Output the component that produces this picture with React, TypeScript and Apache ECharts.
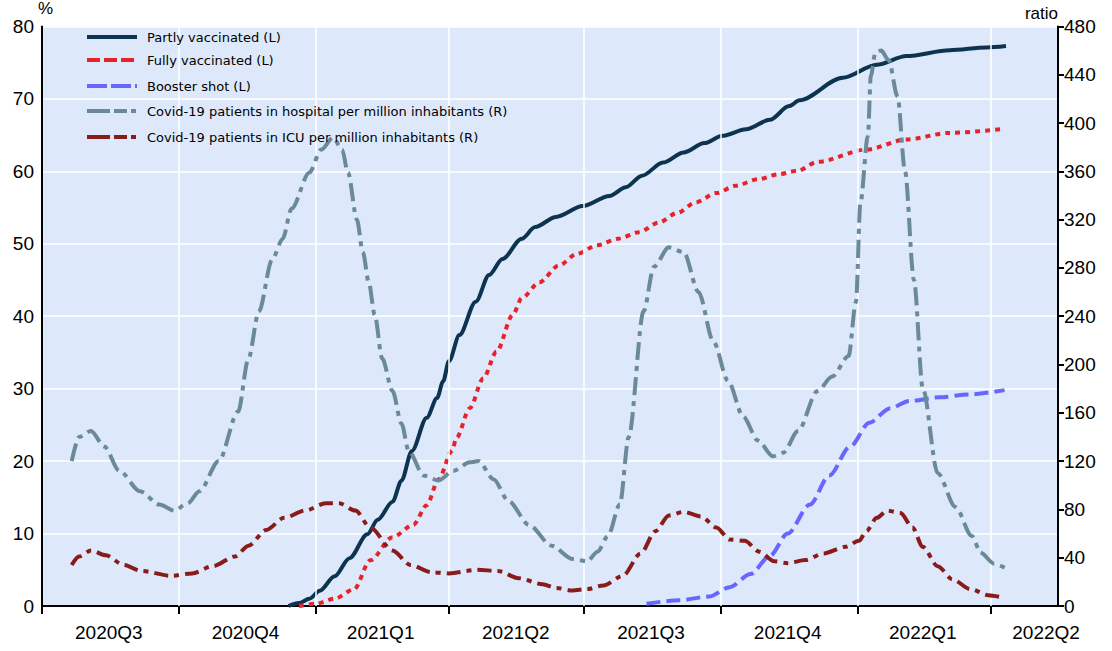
import React, { useEffect, useRef } from "react";
import * as echarts from "echarts";

// ---------- data ----------
const quarterStarts = ["2020-07-01", "2020-10-01", "2021-01-01", "2021-04-01", "2021-07-01", "2021-10-01", "2022-01-01", "2022-04-01"];
const quarterLabels = ["2020Q3", "2020Q4", "2021Q1", "2021Q2", "2021Q3", "2021Q4", "2022Q1", "2022Q2"];
const quarterLabelDates = ["2020-08-15", "2020-11-15", "2021-02-14", "2021-05-16", "2021-08-15", "2021-11-15", "2022-02-14", "2022-05-08"];
const axisEndDate = "2022-05-16";

const partlyDates = ["2020-12-14", "2020-12-21", "2020-12-28", "2021-01-04", "2021-01-14", "2021-01-24", "2021-02-05", "2021-02-12", "2021-02-22", "2021-02-28", "2021-03-07", "2021-03-17", "2021-03-24", "2021-03-28", "2021-04-01", "2021-04-08", "2021-04-19", "2021-04-28", "2021-05-07", "2021-05-20", "2021-05-29", "2021-06-12", "2021-06-30", "2021-07-18", "2021-07-29", "2021-08-09", "2021-08-23", "2021-09-06", "2021-09-20", "2021-10-02", "2021-10-18", "2021-11-03", "2021-11-16", "2021-11-23", "2021-12-22", "2022-01-14", "2022-02-03", "2022-03-04", "2022-03-29", "2022-04-11"];
const partlyValues = [0, 0.4, 1.0, 2.1, 4.1, 6.6, 9.9, 11.9, 14.4, 17.3, 21.4, 26, 28.7, 31, 33.8, 37.4, 42.0, 45.7, 47.9, 50.7, 52.3, 53.7, 55.2, 56.6, 57.8, 59.4, 61.2, 62.6, 63.9, 64.9, 65.8, 67.1, 69.0, 69.8, 72.9, 74.7, 75.9, 76.7, 77.1, 77.3];

const fullyDates = ["2020-12-21", "2021-01-01", "2021-01-14", "2021-01-27", "2021-02-07", "2021-02-22", "2021-03-08", "2021-03-17", "2021-03-25", "2021-04-03", "2021-04-06", "2021-04-15", "2021-04-24", "2021-05-03", "2021-05-14", "2021-05-20", "2021-06-01", "2021-06-14", "2021-06-26", "2021-07-10", "2021-07-24", "2021-08-07", "2021-08-20", "2021-09-02", "2021-09-14", "2021-09-28", "2021-10-11", "2021-10-26", "2021-11-09", "2021-11-22", "2021-12-05", "2022-01-07", "2022-02-03", "2022-03-04", "2022-04-07"];
const fullyValues = [0, 0.3, 1.0, 2.3, 6.3, 9.5, 11.2, 13.9, 17.5, 21.4, 23.2, 27.3, 31.4, 35.1, 40.2, 42.5, 44.7, 47.0, 48.6, 49.8, 50.7, 51.6, 52.9, 54.3, 55.7, 57.0, 58.0, 58.9, 59.6, 60.1, 61.3, 63, 64.4, 65.3, 65.8];

const boosterDates = ["2021-08-12", "2021-09-03", "2021-09-23", "2021-10-07", "2021-10-21", "2021-11-03", "2021-11-15", "2021-11-30", "2021-12-13", "2021-12-27", "2022-01-09", "2022-01-23", "2022-02-05", "2022-02-25", "2022-03-17", "2022-04-10"];
const boosterValues = [0.3, 0.8, 1.3, 2.6, 4.4, 6.9, 10, 14, 18, 22, 25.3, 27.3, 28.3, 28.8, 29.2, 29.8];

const hospitalDates = ["2020-07-21", "2020-07-26", "2020-08-03", "2020-08-12", "2020-08-22", "2020-09-05", "2020-09-18", "2020-09-28", "2020-10-07", "2020-10-15", "2020-10-28", "2020-11-10", "2020-11-17", "2020-11-24", "2020-12-03", "2020-12-10", "2020-12-16", "2020-12-28", "2021-01-05", "2021-01-13", "2021-01-19", "2021-01-23", "2021-01-29", "2021-02-02", "2021-02-06", "2021-02-10", "2021-02-15", "2021-02-22", "2021-02-28", "2021-03-05", "2021-03-15", "2021-03-25", "2021-04-04", "2021-04-15", "2021-04-21", "2021-05-01", "2021-05-11", "2021-05-25", "2021-06-09", "2021-06-23", "2021-07-03", "2021-07-10", "2021-07-17", "2021-07-25", "2021-07-31", "2021-08-10", "2021-08-17", "2021-08-27", "2021-09-06", "2021-09-16", "2021-09-26", "2021-10-06", "2021-10-16", "2021-10-26", "2021-11-05", "2021-11-12", "2021-11-22", "2021-12-05", "2021-12-15", "2021-12-26", "2021-12-31", "2022-01-03", "2022-01-08", "2022-01-10", "2022-01-13", "2022-01-17", "2022-01-22", "2022-01-28", "2022-02-02", "2022-02-08", "2022-02-14", "2022-02-24", "2022-03-08", "2022-03-19", "2022-03-25", "2022-04-03", "2022-04-11"];
const hospitalValues = [120, 140, 145, 132, 112, 95, 84, 79, 85, 95, 120, 161, 205, 244, 287, 304, 329, 359, 378, 388, 378, 359, 320, 293, 268, 241, 205, 178, 151, 128, 108, 104, 112, 119, 120, 105, 87, 67, 50, 39, 37, 45, 58, 84, 140, 244, 281, 297, 293, 260, 219, 186, 157, 137, 124, 127, 145, 178, 190, 207, 252, 334, 389, 439, 458, 460, 452, 422, 360, 270, 180, 110, 82, 58, 44, 35, 31];

const icuDates = ["2020-07-21", "2020-07-26", "2020-08-03", "2020-08-13", "2020-08-25", "2020-09-06", "2020-09-26", "2020-10-10", "2020-10-24", "2020-11-08", "2020-11-17", "2020-11-29", "2020-12-11", "2020-12-25", "2021-01-08", "2021-01-17", "2021-01-28", "2021-02-07", "2021-02-22", "2021-03-06", "2021-03-20", "2021-04-01", "2021-04-20", "2021-05-04", "2021-05-18", "2021-06-03", "2021-06-12", "2021-06-23", "2021-07-03", "2021-07-14", "2021-07-27", "2021-08-08", "2021-08-18", "2021-08-27", "2021-09-06", "2021-09-18", "2021-09-28", "2021-10-07", "2021-10-17", "2021-10-27", "2021-11-06", "2021-11-15", "2021-11-27", "2021-12-09", "2021-12-24", "2022-01-02", "2022-01-07", "2022-01-14", "2022-01-21", "2022-01-30", "2022-02-07", "2022-02-14", "2022-02-24", "2022-03-06", "2022-03-18", "2022-03-30", "2022-04-10"];
const icuValues = [34, 41, 46, 42, 34, 29, 25, 27, 33, 41, 50, 63, 73, 79, 85, 85, 79, 65, 46, 34, 28, 27, 30, 29, 23, 18, 15, 12.8, 14, 17, 25, 43.5, 62, 75, 78, 74, 65, 55, 54, 45, 37, 35.5, 38, 43.5, 49, 54, 62, 73, 79, 77, 65, 49, 33, 22, 14, 9, 6.7];

const seriesNames = [
  "Partly vaccinated (L)",
  "Fully vaccinated (L)",
  "Booster shot (L)",
  "Covid-19 patients in hospital per million inhabitants (R)",
  "Covid-19 patients in ICU per million inhabitants (R)",
];

// ---------- helpers ----------
const DAY0 = Date.UTC(2020, 6, 1);
const toDay = (s: string) => {
  const [y, m, d] = s.split("-").map(Number);
  return (Date.UTC(y, m - 1, d) - DAY0) / 86400000;
};
const pairs = (dates: string[], vals: number[]) => dates.map((d, i) => [toDay(d), vals[i]]);

const AXIS_FONT = "'Liberation Sans', Arial, sans-serif";
const LEGEND_FONT = "'DejaVu Sans', Verdana, sans-serif";

export default function App() {
  const ref = useRef<HTMLDivElement>(null);
  useEffect(() => {
    if (!ref.current) return;
    const chart = echarts.init(ref.current, undefined, { renderer: "svg" });
    const tickDays = quarterStarts.map(toDay);
    const labelDays = quarterLabelDates.map(toDay);
    const labelFor = (v: number) => {
      const i = labelDays.findIndex((d) => Math.abs(d - v) < 0.5);
      return i >= 0 ? quarterLabels[i] : "";
    };
    const colors = ["#0c3450", "#e8222b", "#6767ff", "#6b8a99", "#8a1b1b"];
    const dashes: any[] = ["solid", [5, 5], [14, 6], [18, 6, 5, 6], [14, 6, 5, 6]];
    const legendDashes: any[] = [null, [13, 4], [20, 4], [23, 4, 13, 4, 5, 4], [23, 4, 13, 4, 5, 4]];
    const datas = [
      pairs(partlyDates, partlyValues),
      pairs(fullyDates, fullyValues),
      pairs(boosterDates, boosterValues),
      pairs(hospitalDates, hospitalValues),
      pairs(icuDates, icuValues),
    ];
    const axisIdx = [0, 0, 0, 1, 1];
    const legendRowsY = [37, 60, 86, 111, 137];

    const legendGraphics: any[] = [];
    seriesNames.forEach((n, i) => {
      const y = legendRowsY[i];
      legendGraphics.push({
        type: "line",
        silent: true,
        z: 100,
        shape: { x1: 87, y1: y, x2: 137, y2: y },
        style: { stroke: colors[i], lineWidth: 4, lineDash: legendDashes[i] || undefined, lineCap: "butt" },
      });
      legendGraphics.push({
        type: "text",
        silent: true,
        z: 100,
        style: {
          text: n,
          x: 147,
          y,
          verticalAlign: "middle",
          align: "left",
          fontFamily: LEGEND_FONT,
          fontSize: 13,
          fill: "#000",
        },
      });
    });

    chart.setOption({
      animation: false,
      backgroundColor: "#ffffff",
      grid: {
        left: 42,
        right: 54,
        top: 23,
        bottom: 45,
        show: true,
        backgroundColor: "#dde9fa",
        borderWidth: 0,
      },
      graphic: legendGraphics,
      xAxis: {
        type: "value",
        min: 0,
        max: toDay(axisEndDate),
        axisLine: { show: true, lineStyle: { color: "#000", width: 2 } },
        axisTick: { show: true, customValues: tickDays, length: 8, lineStyle: { color: "#000", width: 2 } },
        axisLabel: {
          customValues: labelDays,
          formatter: (v: number) => labelFor(v),
          fontFamily: AXIS_FONT,
          fontSize: 19,
          color: "#000",
          margin: 17,
        },
        splitLine: { show: false },
      },
      yAxis: [
        {
          type: "value",
          min: 0,
          max: 80,
          interval: 10,
          name: "%",
          nameLocation: "end",
          nameGap: 4,
          nameTextStyle: { fontFamily: AXIS_FONT, fontSize: 17, color: "#000", align: "left", padding: [0, 0, 0, -4] },
          axisLine: { show: true, lineStyle: { color: "#000", width: 2 } },
          axisTick: { show: false },
          axisLabel: { fontFamily: AXIS_FONT, fontSize: 19, color: "#000", margin: 8 },
          splitLine: { show: true, lineStyle: { color: "#ffffff", width: 1.5 } },
        },
        {
          type: "value",
          min: 0,
          max: 480,
          interval: 40,
          position: "right",
          name: "ratio",
          nameLocation: "end",
          nameGap: 4,
          nameTextStyle: { fontFamily: AXIS_FONT, fontSize: 17, color: "#000", align: "right" },
          axisLine: { show: true, lineStyle: { color: "#000", width: 2 } },
          axisTick: { show: true, length: 6, lineStyle: { color: "#000", width: 2 } },
          axisLabel: { fontFamily: AXIS_FONT, fontSize: 19, color: "#000", margin: 6 },
          splitLine: { show: false },
        },
      ],
      series: [
        {
          type: "line",
          name: "__vgrid",
          data: [],
          z: 1,
          silent: true,
          markLine: {
            silent: true,
            symbol: ["none", "none"],
            label: { show: false },
            lineStyle: { color: "#ffffff", width: 1.5, type: "solid" },
            data: tickDays.slice(1).map((d) => ({ xAxis: d })),
          },
        },
        ...seriesNames.map((n, i) => ({
          type: "line",
          name: n,
          showSymbol: false,
          symbol: "none",
          smooth: 0.3,
          smoothMonotone: "x",
          silent: true,
          yAxisIndex: axisIdx[i],
          z: 3 + i,
          lineStyle: { color: colors[i], width: 4, type: dashes[i], cap: "butt" },
          itemStyle: { color: colors[i] },
          data: datas[i],
        })),
      ],
    });
    return () => chart.dispose();
  }, []);
  return <div ref={ref} style={{ position: "fixed", left: 0, top: 0, width: 1112, height: 651 }} />;
}
